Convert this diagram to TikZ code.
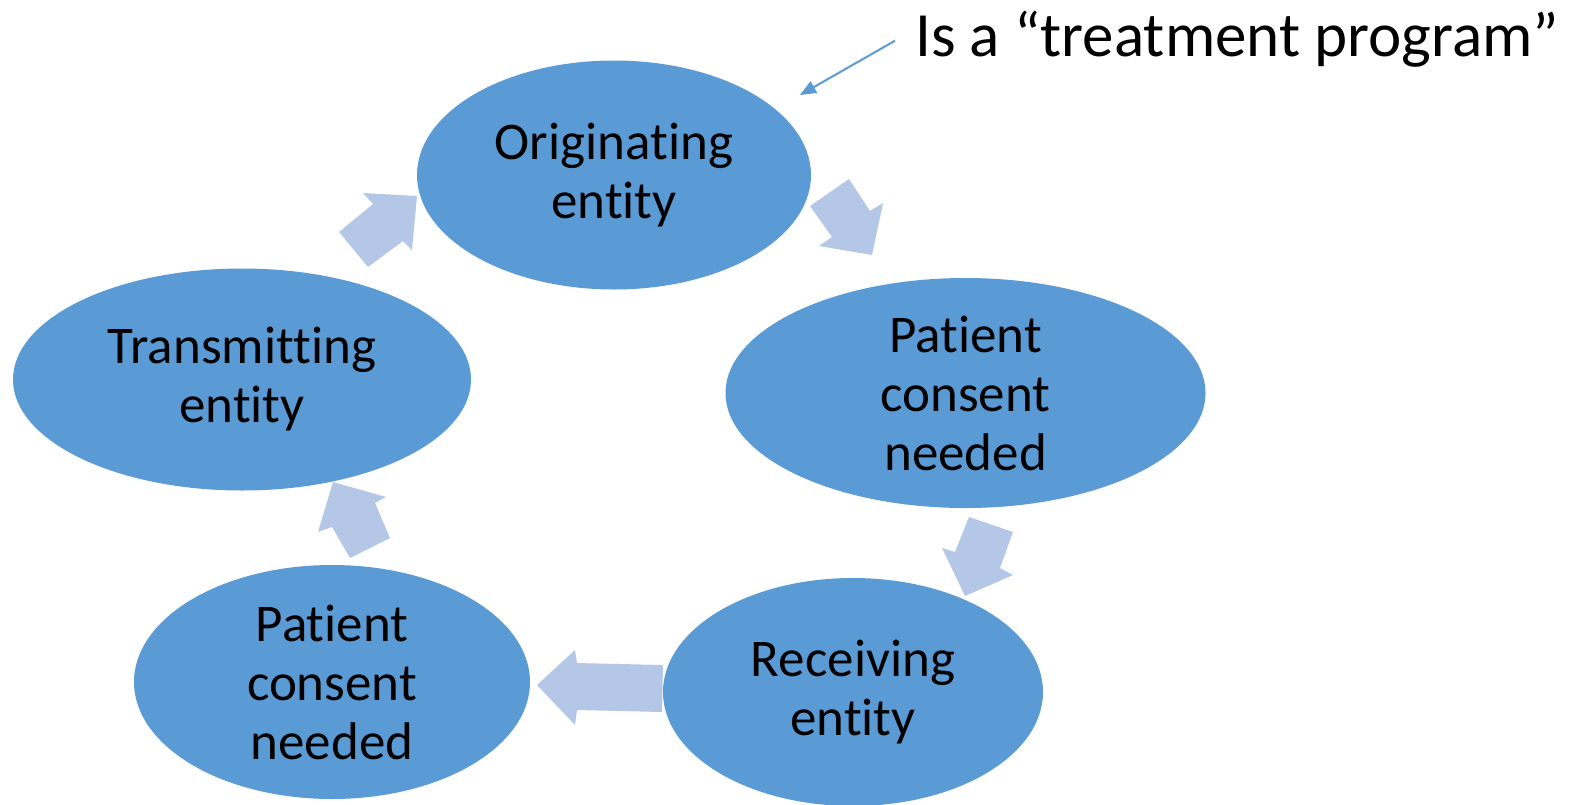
\documentclass[tikz,border=0pt]{standalone}
\usepackage{fontspec}
\setmainfont{Carlito}[Ligatures=NoCommon]
\usetikzlibrary{shapes.geometric,arrows.meta}
\definecolor{ellblue}{HTML}{5B9BD5}
\definecolor{arrblue}{HTML}{B4C7E7}
\tikzset{
  ent/.style={ellipse, fill=ellblue, draw=none, inner sep=0pt, align=center,
    font=\fontsize{53}{59}\selectfont, text=black},
  blockarrow/.style={fill=arrblue, draw=none},
}
\begin{document}
\begin{tikzpicture}[x=1pt,y=-1pt]
\useasboundingbox (0,0) rectangle (1587,804);
\node[ent, minimum width=394pt, minimum height=229pt] (orig) at (614,175) {Originating\\entity};
\node[ent, minimum width=480pt, minimum height=230pt] (pcr) at (965.5,393) {Patient\\consent\\needed};
\node[ent, minimum width=380pt, minimum height=228pt] (recv) at (853,692) {Receiving\\entity};
\node[ent, minimum width=396pt, minimum height=234pt] (pcl) at (332,682) {Patient\\consent\\needed};
\node[ent, minimum width=458pt, minimum height=222pt] (trans) at (242,379.5) {Transmitting\\entity};
% block arrows
\fill[blockarrow] (339,232) -- (373,204) -- (363,193) -- (417,196) -- (412,250) -- (403,241) -- (368,267) -- cycle;
\fill[blockarrow] (810,206) -- (849,179) -- (870,211) -- (883,203) -- (872,255) -- (819,246) -- (832,237) -- cycle;
\fill[blockarrow] (969,517) -- (1013,532) -- (1000,568) -- (1013,575) -- (965,596) -- (942,548) -- (955,552) -- cycle;
\fill[blockarrow] (663,665) -- (662,712) -- (577,710) -- (575,725) -- (537,685) -- (575,650) -- (577,663) -- cycle;
\fill[blockarrow] (390,538) -- (350,558) -- (332,527) -- (318,532) -- (333,482) -- (386,497) -- (375,503) -- cycle;
% callout
\node[anchor=base west, inner sep=0pt, font=\fontsize{63}{70}\selectfont] (title) at (915,56) {Is a “treatment program”};
\coordinate (tip) at (800,95);
\draw[ellblue, line width=2pt, -{Triangle[length=16pt,width=13pt]}] ([xshift=-20pt,yshift=-2pt]title.west) -- (tip);
\end{tikzpicture}
\end{document}
